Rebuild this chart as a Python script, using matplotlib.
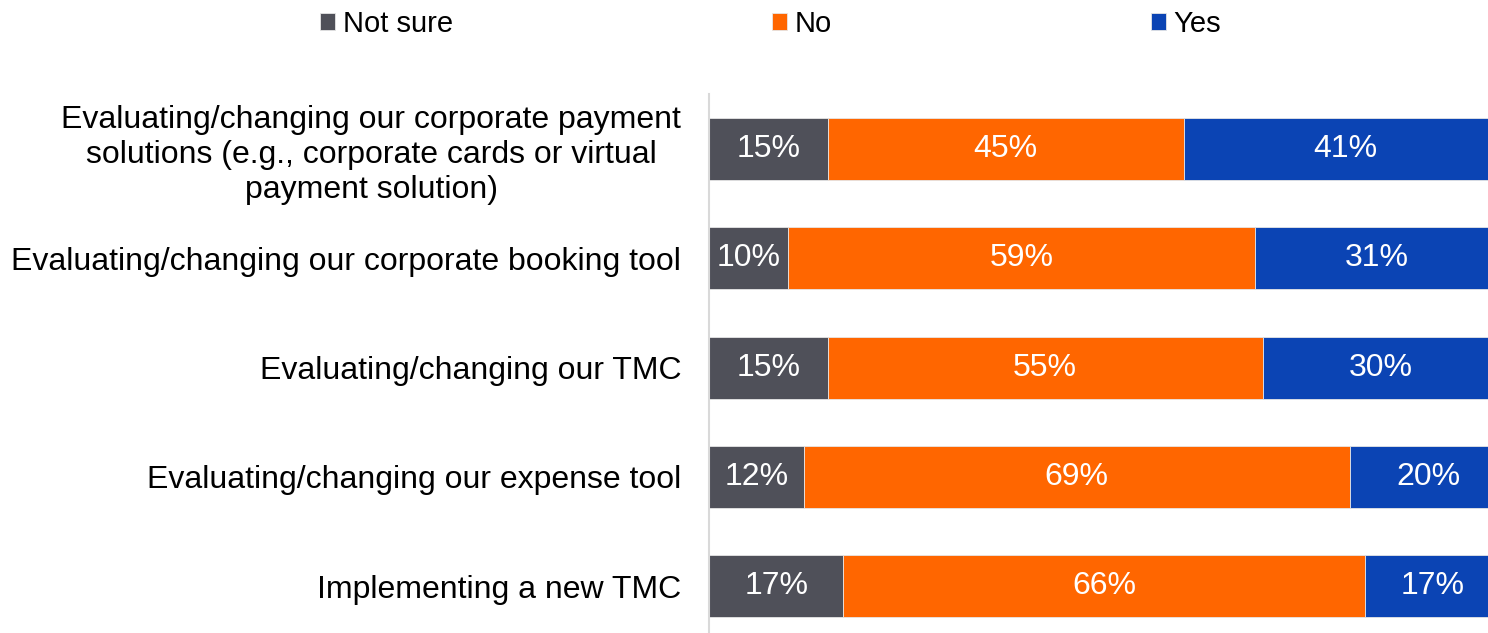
import numpy as np
import matplotlib.pyplot as plt

plt.rcParams['font.family'] = ['Liberation Sans', 'DejaVu Sans']

# ---- data ----
categories = [
    "Evaluating/changing our corporate payment\nsolutions (e.g., corporate cards or virtual\npayment solution)",
    "Evaluating/changing our corporate booking tool",
    "Evaluating/changing our TMC",
    "Evaluating/changing our expense tool",
    "Implementing a new TMC",
]
not_sure = [15, 10, 15, 12, 17]
no = [45, 59, 55, 69, 66]
yes = [41, 31, 30, 20, 17]

series_names = ["Not sure", "No", "Yes"]
colors = ["#4F5059", "#FF6600", "#0B44B4"]

fig = plt.figure(figsize=(14.88, 6.33), dpi=100)
ax = fig.add_axes([709 / 1488, 0.0, 1 - 709 / 1488, 1 - 94.4 / 633])

y = np.arange(len(categories))
left = np.zeros(len(categories))
for name, vals, col in zip(series_names, [not_sure, no, yes], colors):
    vals = np.array(vals, dtype=float)
    ax.barh(y, vals, left=left, height=0.567, color=col, label=name,
            edgecolor="#E6E6E6", linewidth=0.6)
    for yi, l, v in zip(y, left, vals):
        ax.text(l + v / 2, yi, f"{v:.0f}%", ha="center", va="center",
                color="white", fontsize=23)
    left += vals

ax.set_xlim(0, 98.5)
ax.set_ylim(-0.5 + 538.6 / 109.3, -0.5)
ax.set_yticks(y)
ax.set_yticklabels(categories, fontsize=23, linespacing=1.22, multialignment="center")
ax.tick_params(axis="y", length=0, pad=20)
ax.set_xticks([])
for s in ["top", "right", "bottom"]:
    ax.spines[s].set_visible(False)
ax.spines["left"].set_color("#D9D9D9")
ax.spines["left"].set_linewidth(1.5)

fig.legend(loc="center", bbox_to_anchor=(0.518, 0.962), ncol=3, frameon=False,
           fontsize=21, handlelength=0.52, handleheight=0.52, handletextpad=0.25,
           columnspacing=10.95)

fig.savefig("out.png", dpi=100)
